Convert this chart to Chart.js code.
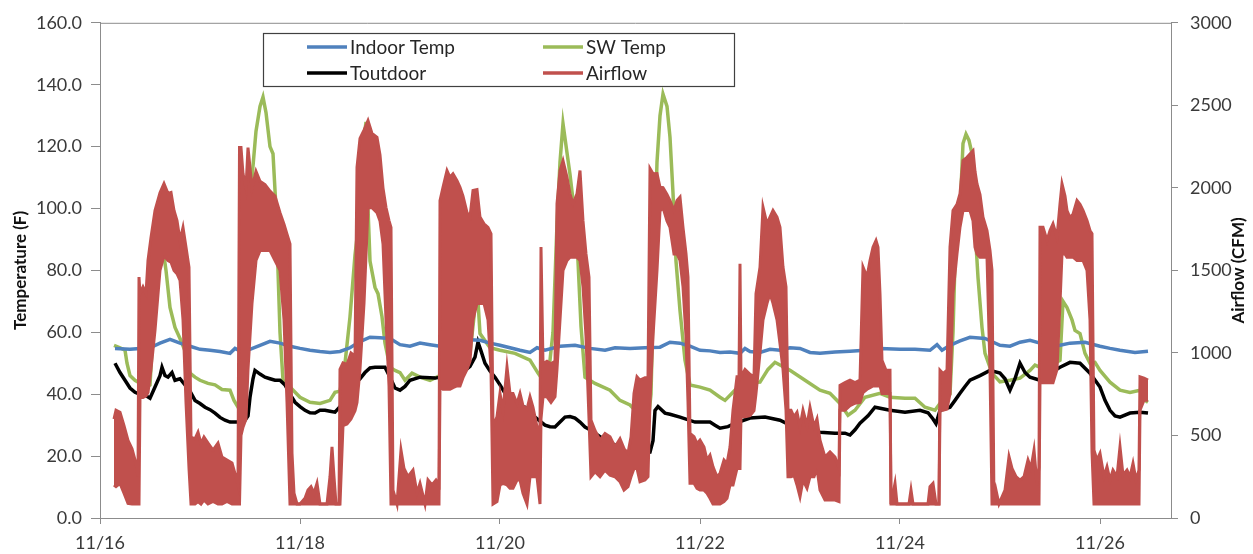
<!DOCTYPE html>
<html>
<head>
<meta charset="utf-8">
<script src="https://cdn.jsdelivr.net/npm/chart.js@4.4.1/dist/chart.umd.min.js"></script>
<style>
  html, body { margin: 0; padding: 0; background: #ffffff; }
  #wrap { width: 1253px; height: 554px; }
</style>
</head>
<body>
<div id="wrap"><canvas id="c" width="1253" height="554"></canvas></div>
<script>
// ---- tick labels / axis text ----
const xTickLabels = ['11/16', '11/18', '11/20', '11/22', '11/24', '11/26'];
const seriesNames = ['Indoor Temp', 'SW Temp', 'Toutdoor', 'Airflow'];
const leftTitle = 'Temperature (F)';
const rightTitle = 'Airflow (CFM)';

// ---- series values: [day since 11/16 00:00, value] ----
const indoorTemp = [
  [0.15,54.8],[0.30,54.5],[0.50,55],[0.60,56.5],[0.70,57.7],[0.80,56.5],[0.90,55.5],[1.00,54.5],[1.10,54.2],
  [1.20,53.8],[1.30,53.2],[1.35,54.8],[1.40,54],[1.50,54.5],[1.60,55.8],[1.70,57.1],[1.80,56.5],[1.90,55.5],
  [2.00,54.8],[2.10,54.2],[2.20,53.8],[2.30,53.5],[2.40,53.8],[2.50,55],[2.60,57],[2.70,58.4],[2.80,58.2],
  [2.90,58],[3.00,56],[3.10,55.5],[3.20,56.5],[3.30,56],[3.40,55.5],[3.50,56.5],[3.65,57.7],[3.80,57.4],
  [3.90,56.5],[4.00,55.8],[4.10,55],[4.20,54.2],[4.30,53.5],[4.37,55],[4.45,54.2],[4.60,55.5],[4.75,55.8],
  [4.90,54.8],[5.05,54.2],[5.15,55],[5.30,54.8],[5.45,55],[5.60,55.2],[5.70,56.8],[5.80,56.5],[5.90,55.5],
  [6.00,54.2],[6.10,54],[6.20,53.5],[6.30,53.6],[6.40,53.2],[6.45,54.8],[6.50,53.8],[6.60,53.5],[6.70,54.5],
  [6.80,54.2],[6.90,55],[7.00,54.8],[7.10,53.5],[7.20,53.2],[7.35,53.6],[7.50,53.9],[7.65,54.2],[7.80,54.8],
  [8.00,54.5],[8.15,54.5],[8.30,54.2],[8.37,56],[8.42,54.2],[8.50,55.8],[8.60,57.2],[8.70,58.4],[8.85,58],
  [9.00,55.8],[9.10,55.5],[9.20,56.8],[9.30,57.4],[9.40,56.5],[9.50,55.2],[9.60,55.8],[9.70,56.5],[9.85,56.8],
  [10.00,55.5],[10.10,54.8],[10.20,54.2],[10.35,53.5],[10.48,53.9]
];

const swTemp = [
  [0.14,55.8],[0.20,55],[0.25,54.2],[0.27,50],[0.30,46],[0.35,44.5],[0.40,43.5],[0.45,42],[0.50,43],[0.53,60],
  [0.57,80],[0.60,84],[0.63,87],[0.66,80],[0.70,68],[0.75,61.6],[0.80,58],[0.85,54],[0.90,46.8],[0.95,45.5],
  [1.00,44.5],[1.08,43.5],[1.15,43],[1.22,41.5],[1.30,41.3],[1.34,38],[1.38,35.8],[1.41,40],[1.44,70],[1.48,95],
  [1.52,110],[1.56,125],[1.60,133],[1.63,136],[1.66,131],[1.70,120],[1.73,117.7],[1.76,100],[1.78,80],[1.80,60],
  [1.83,44.5],[1.90,42.3],[2.00,39],[2.10,37.4],[2.20,37],[2.30,38],[2.35,40.6],[2.40,41],[2.45,50],[2.50,65],
  [2.55,85],[2.60,99],[2.63,120],[2.66,128],[2.68,100],[2.70,83],[2.75,74.5],[2.78,72.5],[2.82,65],[2.85,56.5],
  [2.90,48.7],[2.95,47.7],[3.00,47],[3.05,44.5],[3.12,46.8],[3.20,45.5],[3.30,44.5],[3.40,46],[3.55,50.3],
  [3.65,51],[3.70,53.2],[3.74,65],[3.76,79],[3.78,70],[3.80,59.6],[3.90,55],[4.00,54.2],[4.15,53.2],[4.30,51],
  [4.38,46.8],[4.42,45],[4.48,45],[4.53,60],[4.57,95],[4.60,115],[4.63,127.4],[4.67,118],[4.70,111],[4.74,100],
  [4.78,83],[4.81,62],[4.85,45.5],[4.95,43.5],[5.10,41.3],[5.20,38],[5.30,36.5],[5.33,35.5],[5.40,40.6],
  [5.45,36],[5.48,30.6],[5.51,40],[5.54,80],[5.57,115],[5.60,130],[5.63,137],[5.67,133],[5.70,123],[5.73,105],
  [5.76,83],[5.80,67],[5.85,51],[5.90,43],[6.00,42.3],[6.10,41.3],[6.20,39],[6.25,38],[6.35,41.3],[6.45,43.5],
  [6.60,43.9],[6.68,48],[6.75,50.3],[6.90,47.7],[7.05,44.5],[7.20,41.3],[7.30,40.3],[7.40,37],[7.48,33.2],
  [7.55,34.8],[7.65,39],[7.80,40.3],[7.90,39],[8.05,38.7],[8.15,38.7],[8.25,35.8],[8.35,34.8],[8.40,37],
  [8.50,40],[8.53,60],[8.55,83],[8.60,99],[8.63,121],[8.66,124],[8.69,122],[8.72,117.7],[8.75,94],[8.78,77.7],
  [8.82,61.6],[8.85,53.2],[8.92,46.8],[9.00,44],[9.10,44.5],[9.20,45.2],[9.30,47.7],[9.35,49.4],[9.45,48],
  [9.55,50],[9.60,51],[9.63,70],[9.67,68],[9.72,64],[9.75,60.6],[9.80,59.6],[9.85,53.2],[9.90,50],[9.95,50.3],
  [10.00,47.7],[10.10,43.9],[10.20,41.3],[10.30,40.6],[10.40,41.3],[10.45,38],[10.48,37.4]
];

const outdoorTemp = [
  [0.15,50],[0.20,47],[0.25,44.5],[0.30,42],[0.35,40.6],[0.40,40],[0.45,39.7],[0.50,38.7],[0.55,42.3],[0.60,46],
  [0.62,48.7],[0.65,46],[0.68,45.5],[0.72,47],[0.75,44.5],[0.80,45],[0.85,43],[0.90,41],[0.95,38],[1.00,37],
  [1.05,35.8],[1.10,35],[1.15,33.9],[1.20,32.5],[1.25,31.6],[1.30,31],[1.35,31],[1.40,31],[1.45,31.6],[1.48,33],
  [1.50,39],[1.53,45],[1.55,47.7],[1.60,46.5],[1.65,45.5],[1.70,45],[1.75,44.5],[1.80,44.5],[1.85,43],[1.90,40],
  [1.95,37.4],[2.00,36],[2.05,34.8],[2.10,34],[2.15,33.9],[2.20,34.8],[2.25,34.8],[2.30,34.5],[2.35,34.2],[2.40,36],
  [2.45,39],[2.50,41],[2.55,43.5],[2.60,45],[2.65,47],[2.70,48.5],[2.75,48.7],[2.80,48.7],[2.85,48.7],[2.90,45.5],
  [2.95,42],[3.00,41.3],[3.05,42.5],[3.10,44.5],[3.20,45.5],[3.35,45.2],[3.50,46],[3.65,47.7],[3.70,49],[3.75,52],
  [3.78,56.8],[3.81,54],[3.85,50],[3.90,47.5],[3.95,45.5],[4.00,43],[4.05,40.3],[4.10,38.5],[4.15,37.4],[4.20,36.5],
  [4.25,35.8],[4.30,34.2],[4.35,32.6],[4.40,31.3],[4.45,30],[4.50,29.5],[4.55,29.4],[4.60,31],[4.65,32.6],[4.70,32.8],
  [4.75,32.3],[4.80,31],[4.85,29.4],[4.90,28.5],[4.95,27.4],[5.00,26.3],[5.05,25.2],[5.10,24.5],[5.15,23.5],[5.20,22],
  [5.25,20.3],[5.30,21.3],[5.40,21],[5.50,21.3],[5.53,25],[5.55,34.8],[5.58,36],[5.65,33.9],[5.70,33.5],[5.80,32.6],
  [5.95,31],[6.10,31],[6.15,30],[6.20,29],[6.28,29.5],[6.35,30.6],[6.50,32.3],[6.65,32.6],[6.80,31.6],[6.90,30],
  [6.98,29],[7.05,28.4],[7.20,27.7],[7.35,27.4],[7.45,27.4],[7.50,26.8],[7.55,28.5],[7.60,30.6],[7.68,33],[7.75,35.8],
  [7.90,34.8],[8.05,34.2],[8.20,34.8],[8.28,34],[8.33,32],[8.36,30.5],[8.40,34.8],[8.50,35.8],[8.55,38],[8.60,40.3],
  [8.65,42.5],[8.70,44.5],[8.80,46],[8.90,47.7],[9.00,46.8],[9.05,45],[9.10,41.3],[9.15,45],[9.20,50],[9.25,47],
  [9.30,45.5],[9.40,44.5],[9.50,46.8],[9.60,48.7],[9.70,50.3],[9.80,50],[9.90,46.8],[10.00,42.3],[10.05,38],
  [10.10,34.8],[10.15,33],[10.20,32.6],[10.30,33.9],[10.40,34.2],[10.48,33.9]
];

// Airflow (CFM): [day, upper edge of the oscillating trace, lower edge]
const airflowBand = [
  [0.14,600,200],[0.16,653,190],[0.20,640,210],[0.24,560,150],[0.28,470,89],[0.32,420,85],[0.36,330,85],[0.38,250,85],
  [0.39,1460,85],[0.40,1360,730],[0.43,1400,730],[0.46,1360,740],[0.48,1560,760],[0.51,1700,900],[0.55,1863,1137],
  [0.60,1970,1500],[0.64,2026,1590],[0.68,1966,1560],[0.71,1972,1550],[0.74,1863,1500],[0.77,1802,1480],[0.80,1681,1440],
  [0.83,1760,1200],[0.86,1640,700],[0.89,1518,300],[0.91,490,85],[0.95,480,85],[0.98,520,100],[1.01,450,85],[1.04,490,110],
  [1.08,454,85],[1.13,411,100],[1.18,454,85],[1.22,369,85],[1.27,351,100],[1.32,333,85],[1.36,248,85],[1.38,200,85],
  [1.395,2244,85],[1.41,2244,500],[1.43,2086,550],[1.46,2000,600],[1.48,2244,900],[1.52,2000,1300],[1.56,2100,1560],
  [1.60,2040,1620],[1.65,2020,1620],[1.70,1980,1620],[1.75,1950,1560],[1.80,1850,1500],[1.84,1780,1200],[1.87,1720,700],
  [1.90,1660,85],[1.92,393,85],[1.94,151,85],[1.97,85,85],[2.00,85,85],[2.05,120,85],[2.08,169,85],[2.11,190,85],
  [2.14,150,85],[2.17,210,85],[2.20,85,85],[2.27,85,85],[2.30,250,85],[2.32,431,85],[2.34,250,85],[2.36,85,85],
  [2.39,85,85],[2.40,900,85],[2.43,940,560],[2.47,930,570],[2.51,1000,600],[2.55,980,650],[2.57,2125,700],[2.60,2300,900],
  [2.64,2350,1300],[2.68,2407,1880],[2.72,2330,1880],[2.77,2306,1850],[2.80,2200,1800],[2.83,2000,1660],[2.86,1881,1200],
  [2.89,1802,800],[2.91,1760,85],[2.93,169,85],[2.97,85,85],[3.01,411,85],[3.04,300,85],[3.08,250,85],[3.13,290,85],
  [3.17,150,85],[3.20,210,85],[3.25,85,85],[3.28,230,85],[3.32,200,85],[3.36,230,85],[3.39,200,85],[3.40,1923,800],
  [3.43,2004,780],[3.47,2105,780],[3.50,2064,780],[3.53,2085,790],[3.57,2044,800],[3.60,2004,800],[3.63,1950,850],
  [3.67,1850,900],[3.70,1823,950],[3.73,1984,1200],[3.77,1990,1300],[3.80,1823,1300],[3.84,1782,1300],[3.88,1760,1200],
  [3.91,1722,900],[3.93,552,85],[3.97,613,100],[4.00,754,200],[4.03,650,210],[4.07,915,200],[4.10,754,180],[4.13,754,180],
  [4.17,694,230],[4.20,754,230],[4.23,680,150],[4.27,660,85],[4.30,734,250],[4.33,670,250],[4.37,552,250],[4.40,552,85],
  [4.41,1641,600],[4.43,934,734],[4.47,950,734],[4.51,934,700],[4.55,950,734],[4.57,1903,900],[4.60,2105,1200],
  [4.63,2165,1500],[4.67,2064,1560],[4.70,1964,1580],[4.73,1903,1580],[4.77,1964,1580],[4.80,2105,1560],[4.83,1800,1400],
  [4.86,1600,1100],[4.89,1460,600],[4.91,593,250],[4.95,530,280],[5.00,472,250],[5.05,512,290],[5.10,492,260],
  [5.15,430,250],[5.20,480,220],[5.24,420,169],[5.28,393,190],[5.31,490,250],[5.34,754,300],[5.37,855,300],[5.40,835,220],
  [5.45,850,230],[5.48,850,250],[5.50,2117,700],[5.53,2085,1100],[5.57,2086,1500],[5.60,2004,1860],[5.63,2002,1880],
  [5.67,1960,1800],[5.70,1923,1760],[5.74,1863,1600],[5.77,1923,1600],[5.80,1944,1560],[5.83,1760,1400],[5.86,1602,1100],
  [5.88,1460,700],[5.90,512,210],[5.94,492,210],[5.97,450,180],[6.00,472,169],[6.04,430,169],[6.07,351,150],[6.10,380,120],
  [6.13,310,85],[6.17,250,85],[6.20,270,85],[6.24,351,100],[6.27,330,120],[6.30,430,200],[6.33,653,200],[6.37,855,300],
  [6.39,855,300],[6.40,1540,300],[6.41,855,613],[6.45,900,613],[6.50,870,620],[6.54,855,650],[6.56,1359,754],
  [6.60,1520,1000],[6.63,1883,1200],[6.67,1780,1300],[6.70,1823,1360],[6.73,1863,1300],[6.77,1823,1200],[6.80,1762,1056],
  [6.83,1520,900],[6.86,1400,653],[6.88,653,250],[6.91,653,250],[6.94,613,260],[6.97,640,200],[7.00,552,129],
  [7.03,653,230],[7.07,560,180],[7.10,670,250],[7.14,552,250],[7.17,600,300],[7.20,472,169],[7.25,369,109],[7.30,400,109],
  [7.35,369,109],[7.39,300,100],[7.40,804,653],[7.45,820,653],[7.50,835,680],[7.55,820,695],[7.60,835,700],[7.63,1520,760],
  [7.67,1460,780],[7.70,1560,790],[7.73,1641,800],[7.76,1681,800],[7.78,1640,800],[7.80,1359,800],[7.82,956,754],
  [7.86,895,754],[7.90,895,754],[7.91,85,85],[7.95,210,85],[7.97,85,85],[8.09,85,85],[8.11,169,85],[8.13,85,85],
  [8.28,85,85],[8.30,190,85],[8.33,210,85],[8.36,85,85],[8.39,85,85],[8.40,895,653],[8.43,875,653],[8.47,895,660],
  [8.50,1641,754],[8.53,1863,1359],[8.57,1900,1600],[8.60,1965,1762],[8.63,2165,1863],[8.67,2185,1863],[8.70,2205,1863],
  [8.73,2225,1800],[8.75,2100,1641],[8.77,2024,1600],[8.80,1960,1580],[8.83,1823,1580],[8.87,1742,1580],[8.90,1621,900],
  [8.92,1500,85],[8.94,85,85],[8.96,169,85],[8.99,85,85],[9.05,169,85],[9.09,371,85],[9.12,300,85],[9.16,250,85],
  [9.20,230,85],[9.24,250,85],[9.28,351,85],[9.31,300,85],[9.34,411,85],[9.37,200,85],[9.39,308,85],[9.40,1762,820],
  [9.43,1762,820],[9.47,1681,820],[9.50,1742,820],[9.53,1782,820],[9.57,1700,900],[9.60,1903,1300],[9.62,2024,1600],
  [9.65,1950,1600],[9.67,1863,1580],[9.70,1820,1580],[9.73,1840,1580],[9.77,1923,1560],[9.80,1900,1560],[9.83,1863,1560],
  [9.87,1802,1500],[9.90,1742,1200],[9.92,1723,400],[9.94,411,85],[9.97,350,85],[10.00,391,85],[10.04,250,85],
  [10.07,310,85],[10.10,230,85],[10.13,290,85],[10.17,250,85],[10.20,431,85],[10.23,260,85],[10.27,290,85],[10.30,250,85],
  [10.33,331,85],[10.36,230,85],[10.39,290,85],[10.40,855,653],[10.44,847,714],[10.48,835,714]
];

// ---- styling ----
const COLORS = { indoor: '#4F81BD', sw: '#9BBB59', out: '#000000', air: '#C0504D' };
const AXIS_COLOR = '#8c8c8c';
const TEXT_COLOR = '#3a3a3a';
Chart.defaults.font.family = 'Lato, "Open Sans", "Liberation Sans", sans-serif';

const toXY = arr => arr.map(p => ({ x: p[0], y: p[1] }));

const overlayPlugin = {
  id: 'overlay',
  afterDraw(chart) {
    const ctx = chart.ctx;
    const a = chart.chartArea;
    ctx.save();
    // top frame line of the plot area
    ctx.strokeStyle = AXIS_COLOR;
    ctx.lineWidth = 1;
    ctx.beginPath();
    ctx.moveTo(a.left, a.top + 0.5);
    ctx.lineTo(a.right, a.top + 0.5);
    ctx.stroke();

    // axis titles (both read bottom-to-top)
    ctx.fillStyle = '#111';
    ctx.font = 'bold 17px Lato, "Open Sans", sans-serif';
    ctx.textAlign = 'center';
    ctx.textBaseline = 'middle';
    const cy = (a.top + a.bottom) / 2;
    ctx.save();
    ctx.translate(21, cy);
    ctx.rotate(-Math.PI / 2);
    ctx.fillText(leftTitle, 0, 0);
    ctx.restore();
    ctx.save();
    ctx.translate(chart.width - 14, cy);
    ctx.rotate(-Math.PI / 2);
    ctx.fillText(rightTitle, 0, 0);
    ctx.restore();

    // legend box inside the plot
    const bx = 263.5, by = 33.5, bw = 471, bh = 53;
    ctx.fillStyle = '#ffffff';
    ctx.fillRect(bx, by, bw, bh);
    ctx.strokeStyle = '#404040';
    ctx.lineWidth = 1.2;
    ctx.strokeRect(bx, by, bw, bh);
    const entries = [
      { name: seriesNames[0], color: COLORS.indoor, col: 0, row: 0 },
      { name: seriesNames[1], color: COLORS.sw, col: 1, row: 0 },
      { name: seriesNames[2], color: COLORS.out, col: 0, row: 1 },
      { name: seriesNames[3], color: COLORS.air, col: 1, row: 1 }
    ];
    const colX = [307, 543], rowY = [47, 73];
    ctx.font = '19px Lato, "Open Sans", sans-serif';
    ctx.textAlign = 'left';
    ctx.textBaseline = 'middle';
    entries.forEach(e => {
      const x = colX[e.col], y = rowY[e.row];
      ctx.strokeStyle = e.color;
      ctx.lineWidth = 3.5;
      ctx.beginPath();
      ctx.moveTo(x, y);
      ctx.lineTo(x + 40, y);
      ctx.stroke();
      ctx.fillStyle = '#262626';
      ctx.fillText(e.name, x + 43, y + 1);
    });
    ctx.restore();
  }
};

const lineBase = { pointRadius: 0, pointHoverRadius: 0, tension: 0, spanGaps: true };

new Chart(document.getElementById('c'), {
  type: 'line',
  data: {
    datasets: [
      Object.assign({}, lineBase, {
        label: seriesNames[3], data: toXY(airflowBand.map(r => [r[0], r[1]])), yAxisID: 'y2',
        borderColor: COLORS.air, backgroundColor: COLORS.air, borderWidth: 3, fill: '+1', order: 0
      }),
      Object.assign({}, lineBase, {
        label: seriesNames[3] + ' low', data: toXY(airflowBand.map(r => [r[0], r[2]])), yAxisID: 'y2',
        borderColor: COLORS.air, backgroundColor: COLORS.air, borderWidth: 3, fill: false, order: 0
      }),
      Object.assign({}, lineBase, {
        label: seriesNames[0], data: toXY(indoorTemp), yAxisID: 'y',
        borderColor: COLORS.indoor, borderWidth: 3.5, fill: false, order: 1
      }),
      Object.assign({}, lineBase, {
        label: seriesNames[2], data: toXY(outdoorTemp), yAxisID: 'y',
        borderColor: COLORS.out, borderWidth: 3.5, fill: false, order: 2
      }),
      Object.assign({}, lineBase, {
        label: seriesNames[1], data: toXY(swTemp), yAxisID: 'y',
        borderColor: COLORS.sw, borderWidth: 3.5, fill: false, order: 3
      })
    ]
  },
  options: {
    responsive: false,
    animation: false,
    devicePixelRatio: 1,
    layout: { padding: { top: 22, left: 0, right: 0, bottom: 0 } },
    plugins: { legend: { display: false }, tooltip: { enabled: false } },
    scales: {
      x: {
        type: 'linear', min: 0, max: 10.71,
        grid: { drawOnChartArea: false, drawTicks: true, tickLength: 6, color: AXIS_COLOR },
        border: { display: true, color: AXIS_COLOR, width: 1 },
        ticks: {
          stepSize: 2, includeBounds: false, autoSkip: false, maxRotation: 0, padding: 8,
          color: TEXT_COLOR, font: { size: 18 },
          callback: v => xTickLabels[Math.round(v / 2)] ?? ''
        },
        afterFit: s => { s.height = 36; }
      },
      y: {
        position: 'left', min: 0, max: 160,
        grid: { drawOnChartArea: false, drawTicks: true, tickLength: 9, color: AXIS_COLOR },
        border: { display: true, color: AXIS_COLOR, width: 1 },
        ticks: { stepSize: 20, padding: 9, color: TEXT_COLOR, font: { size: 18 }, callback: v => v.toFixed(1) },
        afterFit: s => { s.width = 100; }
      },
      y2: {
        position: 'right', min: 0, max: 3000,
        grid: { drawOnChartArea: false, drawTicks: true, tickLength: 7, color: AXIS_COLOR },
        border: { display: true, color: AXIS_COLOR, width: 1 },
        ticks: { stepSize: 500, padding: 12, color: TEXT_COLOR, font: { size: 18 }, callback: v => String(v) },
        afterFit: s => { s.width = 82; }
      }
    }
  },
  plugins: [overlayPlugin]
});
</script>
</body>
</html>
